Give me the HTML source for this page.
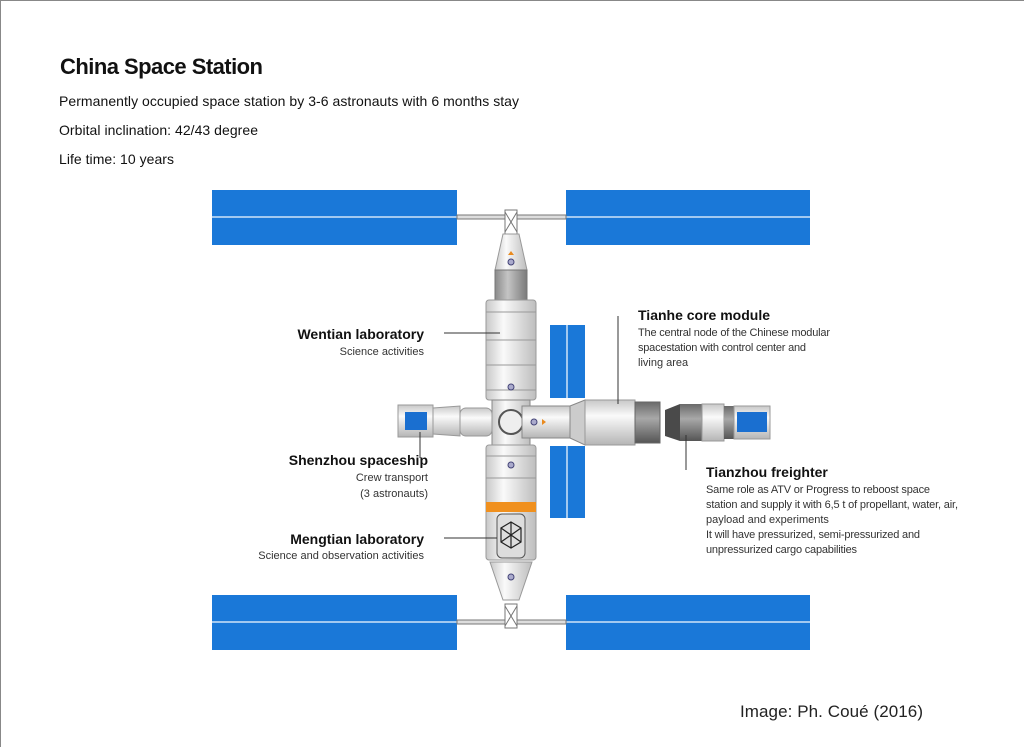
<!DOCTYPE html>
<html><head><meta charset="utf-8"><style>
html,body{margin:0;padding:0;background:#fff;}
svg{display:block;font-family:"Liberation Sans",Arial,sans-serif;}
</style></head><body>
<svg width="1024" height="747" viewBox="0 0 1024 747" xmlns="http://www.w3.org/2000/svg">
<defs>
<linearGradient id="cyl" x1="0" x2="1" y1="0" y2="0">
<stop offset="0" stop-color="#c8c8c8"/><stop offset="0.35" stop-color="#fafafa"/><stop offset="1" stop-color="#bdbdbd"/></linearGradient>
<linearGradient id="cylh" x1="0" x2="0" y1="0" y2="1">
<stop offset="0" stop-color="#c8c8c8"/><stop offset="0.35" stop-color="#fafafa"/><stop offset="1" stop-color="#b5b5b5"/></linearGradient>
<linearGradient id="gry" x1="0" x2="1"><stop offset="0" stop-color="#8a8a8a"/><stop offset="0.4" stop-color="#c4c4c4"/><stop offset="1" stop-color="#7a7a7a"/></linearGradient>
<linearGradient id="gryh" x1="0" x2="0" y1="0" y2="1"><stop offset="0" stop-color="#6a6a6a"/><stop offset="0.4" stop-color="#a8a8a8"/><stop offset="1" stop-color="#555"/></linearGradient>
</defs>
<rect x="0" y="0" width="1024" height="747" fill="#fff"/>
<line x1="0" y1="0.5" x2="1024" y2="0.5" stroke="#888"/>
<line x1="0.5" y1="0" x2="0.5" y2="747" stroke="#888"/>

<text x="60" y="74" font-size="22" fill="#111" style="font-weight:bold" textLength="203">China Space Station</text>
<text x="59" y="106" font-size="14" fill="#111" textLength="460">Permanently occupied space station by 3-6 astronauts with 6 months stay</text>
<text x="59" y="135" font-size="14" fill="#111" textLength="199">Orbital inclination: 42/43 degree</text>
<text x="59" y="164" font-size="14" fill="#111" textLength="115">Life time: 10 years</text>

<g fill="#1a78d8">
<rect x="212" y="190" width="245" height="55"/>
<rect x="566" y="190" width="244" height="55"/>
<rect x="212" y="595" width="245" height="55"/>
<rect x="566" y="595" width="244" height="55"/>
<rect x="550" y="325" width="35" height="73"/>
<rect x="550" y="446" width="35" height="72"/>
</g>
<g stroke="#cfe4f8" stroke-width="1.5">
<line x1="212" y1="217" x2="457" y2="217"/><line x1="566" y1="217" x2="810" y2="217"/>
<line x1="212" y1="622" x2="457" y2="622"/><line x1="566" y1="622" x2="810" y2="622"/>
<line x1="567" y1="325" x2="567" y2="398"/><line x1="567" y1="446" x2="567" y2="518"/>
</g>
<g stroke="#777" stroke-width="1" fill="#ddd">
<rect x="457" y="215" width="109" height="4"/>
<rect x="457" y="620" width="109" height="4"/>
<rect x="505" y="210" width="12" height="24" fill="#fff"/>
<rect x="505" y="604" width="12" height="24" fill="#fff"/>
<path d="M505 212 L517 232 M517 212 L505 232 M505 606 L517 626 M517 606 L505 626" fill="none"/>
</g>

<path d="M503 234 L519 234 L527 270 L495 270 Z" fill="url(#cyl)" stroke="#999"/>
<rect x="495" y="270" width="32" height="30" fill="url(#gry)" stroke="#777"/>
<rect x="486" y="300" width="50" height="100" rx="3" fill="url(#cyl)" stroke="#999"/>
<g stroke="#999"><line x1="486" y1="312" x2="536" y2="312"/><line x1="486" y1="340" x2="536" y2="340"/><line x1="486" y1="365" x2="536" y2="365"/><line x1="486" y1="390" x2="536" y2="390"/></g>
<circle cx="511" cy="262" r="3" fill="#aac" stroke="#447"/>
<circle cx="511" cy="387" r="3" fill="#aac" stroke="#447"/>
<path d="M508 255 L514 255 L511 251 Z" fill="#e98a1e"/>

<rect x="492" y="400" width="38" height="45" fill="url(#cyl)" stroke="#888"/>
<circle cx="511" cy="422" r="12" fill="#eee" stroke="#555" stroke-width="2"/>

<rect x="398" y="405" width="35" height="32" fill="url(#cylh)" stroke="#999"/>
<rect x="405" y="412" width="22" height="18" fill="#1a6fd0"/>
<path d="M433 408 L460 406 L460 436 L433 434 Z" fill="url(#cylh)" stroke="#999"/>
<rect x="460" y="408" width="32" height="28" rx="6" fill="url(#cylh)" stroke="#999"/>

<rect x="522" y="406" width="48" height="32" fill="url(#cylh)" stroke="#888"/>
<path d="M570 406 L585 400 L585 445 L570 438 Z" fill="#ccc" stroke="#888"/>
<rect x="585" y="400" width="50" height="45" fill="url(#cylh)" stroke="#999"/>
<rect x="635" y="402" width="25" height="41" fill="url(#gryh)" stroke="#666"/>
<circle cx="534" cy="422" r="3" fill="#aac" stroke="#447"/>
<path d="M542 419 L546 422 L542 425 Z" fill="#e98a1e"/>

<path d="M665 410 L680 404 L680 441 L665 436 Z" fill="#4a4a4a"/>
<rect x="680" y="404" width="22" height="37" fill="url(#gryh)"/>
<rect x="702" y="404" width="22" height="37" fill="url(#cylh)" stroke="#999"/>
<rect x="724" y="406" width="10" height="33" fill="url(#gryh)"/>
<rect x="734" y="406" width="36" height="33" fill="url(#cylh)" stroke="#999"/>
<rect x="737" y="412" width="30" height="20" fill="#1a6fd0"/>

<rect x="486" y="445" width="50" height="115" rx="3" fill="url(#cyl)" stroke="#999"/>
<g stroke="#999"><line x1="486" y1="456" x2="536" y2="456"/><line x1="486" y1="478" x2="536" y2="478"/></g>
<rect x="486" y="502" width="50" height="10" fill="#f0901e"/>
<rect x="497" y="514" width="28" height="44" rx="5" fill="#ddd" stroke="#555"/>
<path d="M511 522 L521 528 L521 542 L511 548 L501 542 L501 528 Z M501 528 L521 542 M521 528 L501 542 M511 522 L511 548" fill="none" stroke="#222" stroke-width="1.2"/>
<path d="M490 562 L532 562 L519 600 L503 600 Z" fill="url(#cyl)" stroke="#999"/>
<circle cx="511" cy="577" r="3" fill="#aac" stroke="#447"/>
<circle cx="511" cy="465" r="3" fill="#aac" stroke="#447"/>

<g stroke="#333" stroke-width="1">
<line x1="444" y1="333" x2="500" y2="333"/>
<line x1="618" y1="316" x2="618" y2="404"/>
<line x1="420" y1="432" x2="420" y2="458"/>
<line x1="686" y1="435" x2="686" y2="470"/>
<line x1="444" y1="538" x2="497" y2="538"/>
</g>

<g fill="#111">
<text x="424" y="339" font-size="14" font-weight="bold" text-anchor="end">Wentian laboratory</text>
<text x="424" y="355" font-size="11" fill="#333" text-anchor="end">Science activities</text>
<text x="638" y="320" font-size="14" font-weight="bold">Tianhe core module</text>
<text x="638" y="336" font-size="11" fill="#333" textLength="192">The central node of the Chinese modular</text>
<text x="638" y="351" font-size="11" fill="#333" textLength="168">spacestation with control center and</text>
<text x="638" y="366" font-size="11" fill="#333">living area</text>
<text x="428" y="465" font-size="14" font-weight="bold" text-anchor="end">Shenzhou spaceship</text>
<text x="428" y="481" font-size="11" fill="#333" text-anchor="end">Crew transport</text>
<text x="428" y="497" font-size="11" fill="#333" text-anchor="end">(3 astronauts)</text>
<text x="706" y="477" font-size="14" font-weight="bold">Tianzhou freighter</text>
<text x="706" y="493" font-size="11" fill="#333" textLength="224">Same role as ATV or Progress to reboost space</text>
<text x="706" y="508" font-size="11" fill="#333" textLength="252">station and supply it  with 6,5 t of propellant, water, air,</text>
<text x="706" y="523" font-size="11" fill="#333">payload and experiments</text>
<text x="706" y="538" font-size="11" fill="#333" textLength="214">It will have pressurized, semi-pressurized and</text>
<text x="706" y="553" font-size="11" fill="#333" textLength="151">unpressurized cargo capabilities</text>
<text x="424" y="544" font-size="14" font-weight="bold" text-anchor="end">Mengtian laboratory</text>
<text x="424" y="559" font-size="11" fill="#333" text-anchor="end">Science and observation activities</text>
<text x="740" y="717" font-size="17" fill="#222" textLength="183">Image: Ph. Coué (2016)</text>
</g>
</svg>
</body></html>
